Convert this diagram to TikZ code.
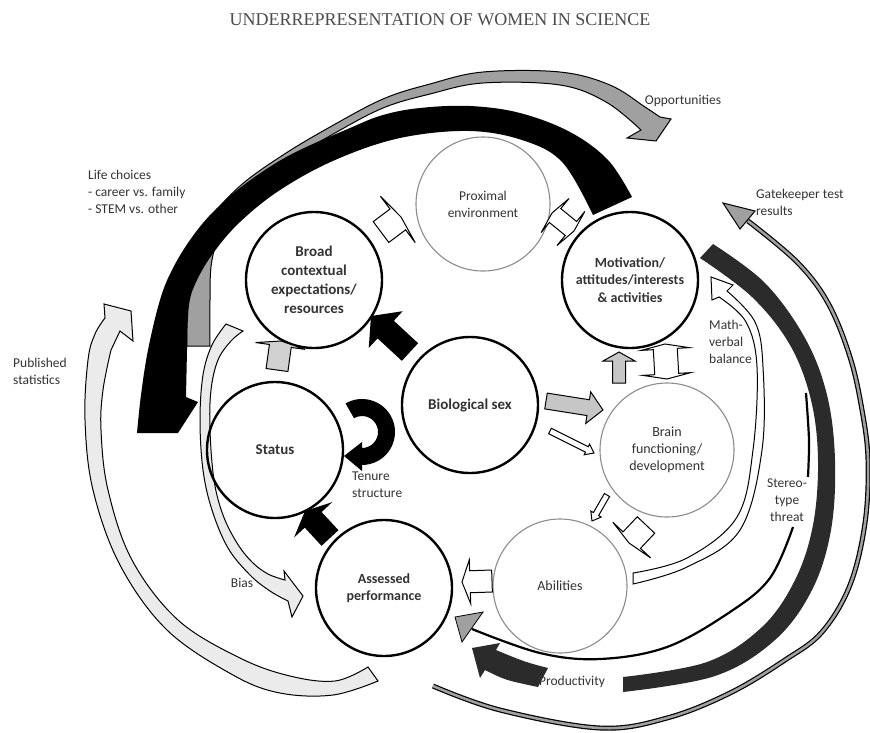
\documentclass[tikz,border=0pt]{standalone}
\usepackage{fontspec}
\setmainfont{Carlito}
\newfontfamily\titlefont{Liberation Serif}
\usetikzlibrary{calc}
\definecolor{txt}{HTML}{333333}
\definecolor{lgray}{HTML}{EBEBEB}
\definecolor{mgray}{HTML}{A0A0A0}
\definecolor{agray}{HTML}{C6C6C6}
\definecolor{dgray}{HTML}{2B2B2B}
\newcommand{\barrow}[6]{%
  \coordinate (bT) at (#2);
  \coordinate (bP) at (#3);
  \coordinate (bH) at ($(bP)!#6pt!(bT)$);
  \path[#1] ($(bT)!#4pt!90:(bP)$) -- ($(bH)!#4pt!90:(bP)$) -- ($(bH)!#5pt!90:(bP)$) -- (bP)
    -- ($(bH)!#5pt!-90:(bP)$) -- ($(bH)!#4pt!-90:(bP)$) -- ($(bT)!#4pt!-90:(bP)$) -- cycle;}
\newcommand{\darrow}[6]{%
  \coordinate (dA) at (#2);
  \coordinate (dB) at (#3);
  \coordinate (dHA) at ($(dA)!#6pt!(dB)$);
  \coordinate (dHB) at ($(dB)!#6pt!(dA)$);
  \path[#1] (dA) -- ($(dHA)!#5pt!90:(dB)$) -- ($(dHA)!#4pt!90:(dB)$) -- ($(dHB)!#4pt!-90:(dA)$)
    -- ($(dHB)!#5pt!-90:(dA)$) -- (dB) -- ($(dHB)!#5pt!90:(dA)$) -- ($(dHB)!#4pt!90:(dA)$)
    -- ($(dHA)!#4pt!-90:(dB)$) -- ($(dHA)!#5pt!-90:(dB)$) -- cycle;}
\tikzset{
  bigc/.style={circle, draw=black, line width=2.4pt, minimum size=136pt, inner sep=0pt, align=center,
    font=\fontsize{15}{19}\selectfont\bfseries, text=txt},
  thinc/.style={circle, draw=black!45, line width=1.1pt, minimum size=134pt, inner sep=0pt, align=center,
    font=\fontsize{14}{17}\selectfont, text=txt},
  lbl/.style={font=\fontsize{13.5}{17}\selectfont, text=txt, inner sep=0pt, align=left},
  band/.style={draw=black, line width=1pt},
  wbox/.style={draw=black, line width=1pt, fill=white},
  gbox/.style={draw=black, line width=1pt, fill=agray},
}
\begin{document}
\begin{tikzpicture}[x=1pt,y=-1pt]
\useasboundingbox (0,0) rectangle (870,732);
\fill[white] (0,0) rectangle (870,732);
% title
\node[font=\titlefont\fontsize{18}{20}\selectfont, text=black!70, inner sep=0pt] (title) at (440,20) {UNDERREPRESENTATION OF WOMEN IN SCIENCE};
% opportunities (gray) band
\path[band, fill=mgray] plot[smooth, tension=0.6] coordinates {(187,346) (187,300) (193,260) (210,220) (240,186) (283,155) (330,127) (383,99) (430,84) (483,72) (560,72) (610,85) (645,107) (660,117)}
  -- (671,119) -- (656,141) -- (627,138)
  -- plot[smooth, tension=0.6] coordinates {(641,130) (606,102) (560,85) (483,83) (430,94) (383,108) (335,133) (290,160) (250,190) (225,220) (212,260) (210,300) (210,346)} -- cycle;
% life choices (black) band
\path[fill=black] plot[smooth, tension=0.6] coordinates {(632,197) (608,160) (570,132) (520,113) (470,106) (420,108) (383,115) (350,128) (290,155) (245,184) (213,212) (190,240) (172,270) (160,300) (148,350) (141,395) (137,433)}
  -- (178,433) -- (198,402) -- (186,397)
  -- plot[smooth, tension=0.6] coordinates {(187,350) (189,305) (197,280) (214,252) (240,222) (280,190) (335,160) (400,138) (470,131) (525,141) (563,163) (593,215)} -- cycle;
% published statistics
\path[band, fill=lgray] plot[smooth, tension=0.6] coordinates {(378,681) (333,695) (280,693) (233,675) (167,630) (120,565) (93,490) (85,420) (88,360) (95,334) (105,318)}
  -- (104,304) -- (131,311) -- (133,341) -- (120,331)
  -- plot[smooth, tension=0.6] coordinates {(111,350) (103,390) (101,430) (108,490) (132,560) (178,620) (240,658) (290,676) (335,681) (368,667)} -- cycle;
% bias
\path[band, fill=lgray] plot[smooth, tension=0.6] coordinates {(226,324) (212,345) (203,375) (200,420) (203,470) (212,510) (228,548) (250,575) (270,591) (288,601)}
  -- (292,617) -- (303,596) -- (284,571)
  -- plot[smooth, tension=0.6] coordinates {(285,580) (268,574) (252,562) (237,543) (223,515) (214,480) (210,430) (211,390) (218,360) (231,341) (243,331)} -- cycle;
% gatekeeper
\draw[line width=1.2pt, double=mgray, double distance=2.6pt] plot[smooth, tension=0.6] coordinates {(433,686) (500,710) (600,728) (667,718) (730,693) (785,660) (822,632) (850,585) (865,523) (868,460) (862,410) (850,357) (828,303) (797,262) (748,221)};
\path[band, fill=mgray] (723,203) -- (740,229) -- (755,211) -- cycle;
% productivity (dark) band
\path[fill=dgray] plot[smooth, tension=0.6] coordinates {(713,244) (765,283) (805,338) (827,395) (835,460) (831,530) (812,590) (775,640) (715,676) (623,692)}
  -- plot[smooth, tension=0.6] coordinates {(623,677) (707,662) (762,627) (795,580) (813,525) (818,460) (811,400) (790,345) (752,297) (700,258)} -- cycle;
\path[fill=dgray] (548,668) .. controls (525,662) .. (496,650) -- (500,643) -- (472,648) -- (480,678) -- (485,670) .. controls (505,680) .. (538,687) -- cycle;
% stereotype threat
\draw[line width=2.2pt] plot[smooth] coordinates {(806,393) (809,440) (808,477)};
\draw[line width=2.2pt] plot[smooth, tension=0.6] coordinates {(793,527) (770,578) (730,612) (667,647) (600,659) (540,653) (472,629)};
\path[draw=black, line width=0.8pt, fill=mgray] (455,617) -- (483,612) -- (462,642) -- cycle;
% math-verbal balance
\path[band, fill=white] plot[smooth, tension=0.6] coordinates {(633,584) (687,567) (740,530) (762,450) (763,367) (755,322) (727,291)}
  -- (733,285) -- (711,277) -- (712,300)
  -- plot[smooth, tension=0.6] coordinates {(719,297) (746,322) (757,367) (753,450) (737,517) (687,558) (633,573)} -- cycle;
% circles
\node[thinc, font=\fontsize{13.5}{17}\selectfont] (prox) at (483,204) {Proximal\\environment};
\node[bigc, font=\fontsize{14}{17.5}\selectfont\bfseries] (motiv) at (630,280) {Motivation/\\attitudes/interests\\\& activities};
\node[bigc] (broad) at (314,280) {Broad\\contextual\\expectations/\\resources};
\node[bigc] (bio) at (470,405) {Biological sex};
\node[bigc] (status) at (275,450) {Status};
\node[thinc] (brain) at (667,450) {Brain\\functioning/\\development};
\node[bigc, font=\fontsize{14}{17}\selectfont\bfseries] (assessed) at (384,588) {Assessed\\performance};
\node[thinc] (abil) at (560,586) {Abilities};
% block arrows between circles
\barrow{fill=black}{410,352}{371,316}{12}{25}{20}
\barrow{fill=black}{330,538}{305,511}{11.5}{26}{12}
\barrow{gbox, fill=black!18}{277,370}{281,341}{11}{25}{5}
\barrow{wbox}{381,232}{401,217}{13}{29}{4}
\darrow{wbox}{552,213}{574,231}{9}{22}{4}
\darrow{wbox}{665,344}{667,379}{12}{24}{5}
\barrow{gbox}{619,383}{619,352}{6.5}{16}{9}
\barrow{gbox}{546,401}{603,410}{8}{16}{15}
\barrow{wbox}{550,431}{594,453}{3}{6}{8}
\barrow{wbox}{607,495}{592,521}{3}{6}{8}
\barrow{wbox}{646,525}{629,543}{12}{26}{4}
\barrow{wbox}{492,581}{462,582}{11}{22}{8}
% tenure loop
\path[fill=black] ($(362,432)+(-120:33)$) arc[start angle=-120, end angle=90, radius=33]
  -- (362,471) -- (344,456) -- (362,442) -- (362,448) arc[start angle=90, end angle=-120, radius=16] -- cycle;
% labels
\node[lbl, anchor=center] (opp) at (683,101) {Opportunities};
\node[lbl, anchor=north west] (life) at (88,170) {Life choices\\- career vs. family\\- STEM vs. other};
\node[lbl, anchor=north west] (gate) at (756,189) {Gatekeeper test\\results};
\node[lbl, anchor=north west] (pub) at (13,358) {Published\\statistics};
\node[lbl, anchor=north west] (math) at (709,320) {Math-\\verbal\\balance};
\node[lbl, anchor=north west] (tenure) at (352,472) {Tenure\\structure};
\node[lbl, anchor=center] (bias) at (242,583) {Bias};
\node[lbl, anchor=center, align=center] (stereo) at (787,500) {Stereo-\\type\\threat};
\node[lbl, anchor=center] (prod) at (572,682) {Productivity};
\end{tikzpicture}
\end{document}
